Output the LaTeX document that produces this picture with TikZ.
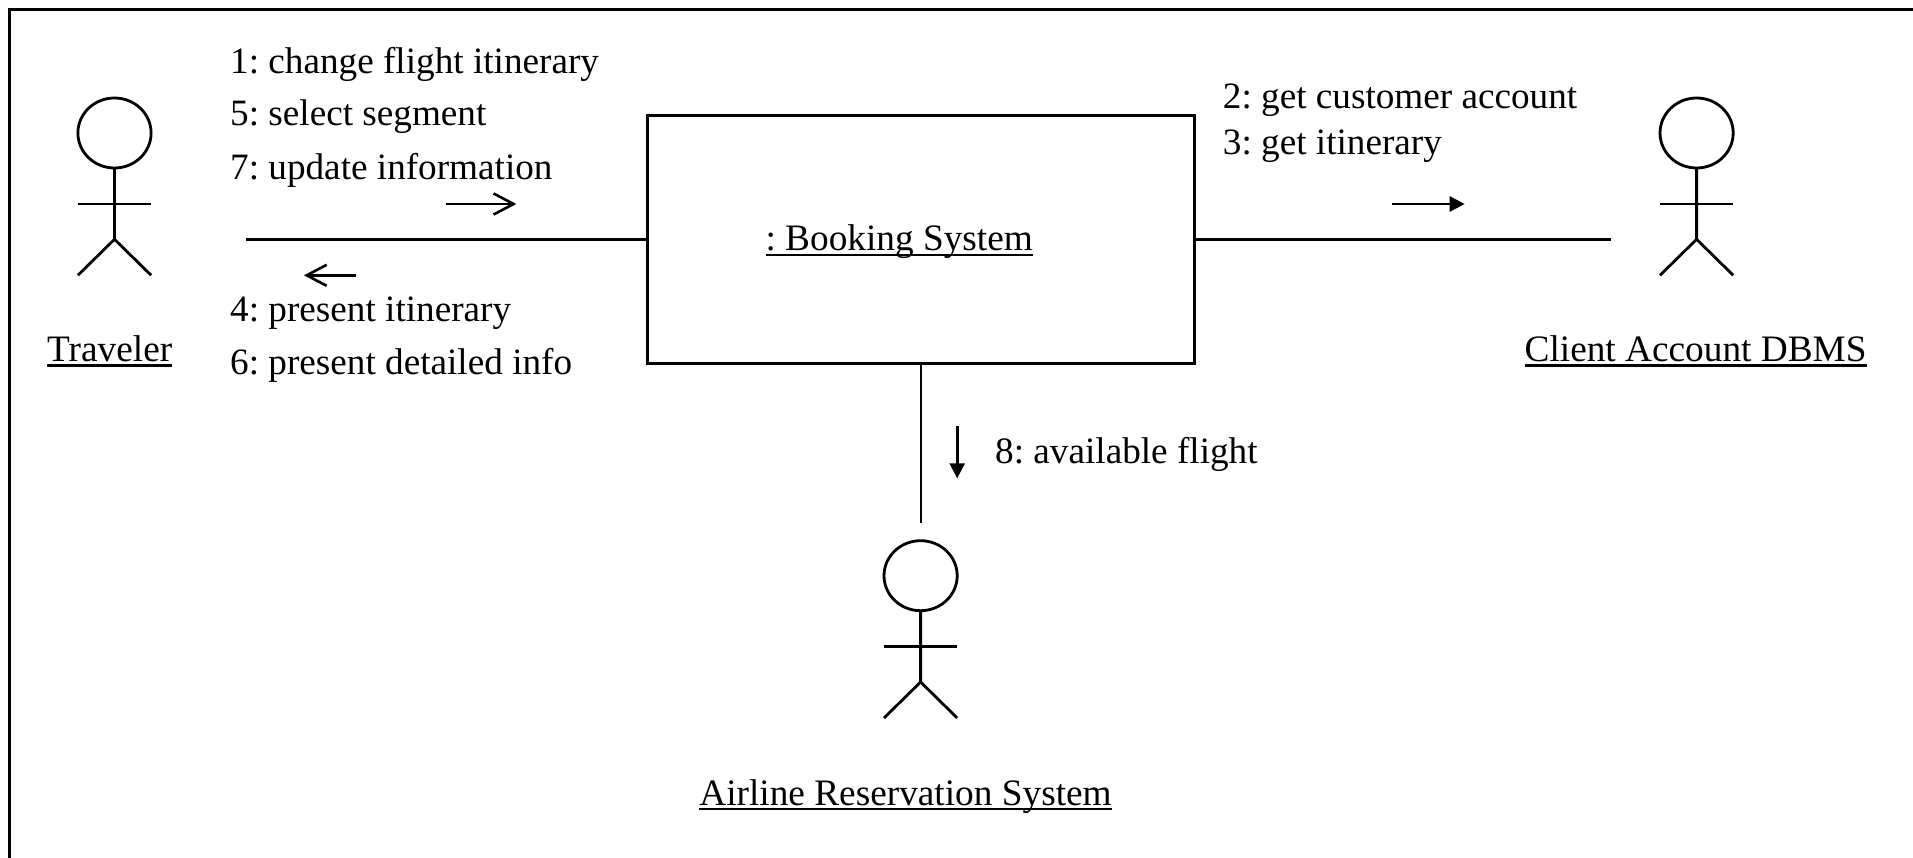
\documentclass[tikz,border=0pt]{standalone}
\usepackage{fontspec}
\setmainfont{Liberation Serif}
\usetikzlibrary{arrows.meta}
\newcommand{\ulabel}[1]{\setbox0\hbox{#1}\rlap{\rule[-4.9pt]{\wd0}{2.2pt}}\box0}
\tikzset{
  msg/.style={anchor=base west, inner sep=0pt, font=\fontsize{37.2}{44}\selectfont\frenchspacing},
  objlabel/.style={anchor=base, inner sep=0pt, font=\fontsize{37.3}{44}\selectfont\frenchspacing},
  openflow/.style={line width=2.6pt, -{Straight Barb[length=20pt,width=21pt,line width=2.6pt]}},
  fillflow/.style={line width=2.6pt, -{Triangle[length=15pt,width=15pt]}},
  actor/.pic={
    \draw[line width=2.8pt] (0,35) ellipse (36.6 and 35);
    \draw[line width=2.8pt] (0,70) -- (0,141.3) -- (-36.6,177.3);
    \draw[line width=2.8pt] (0,141.3) -- (36.6,177.3);
    \draw[line width=2.8pt] (-36.6,106) -- (36.6,106);
  }
}
\begin{document}
\begin{tikzpicture}[x=1pt, y=-1pt]
\useasboundingbox (0,0) rectangle (1913,858);
% Rahmen
\draw[line width=3pt] (1913,9.5) -- (9,9.5) -- (9,858);

% Objekt
\node[draw, line width=2.6pt, minimum width=547.2pt, minimum height=248pt, inner sep=0pt] (booking) at (920.9,239.3) {};
\node[objlabel] (bookinglabel) at (899.2,251) {\ulabel{: Booking System}};

% Akteure
\pic at (114.5,98) {actor};
\pic at (1696.6,98) {actor};
\pic at (920.6,540.7) {actor};
\node[objlabel] (traveler) at (109.7,361.7) {\ulabel{Traveler}};
\node[objlabel] (client) at (1695.6,361.7) {\ulabel{Client Account DBMS}};
\node[objlabel] (airline) at (905.5,805) {\ulabel{Airline Reservation System}};

% Verbindungen
\coordinate (travelerend) at (245.8,239.3);
\coordinate (clientend) at (1610.6,239.3);
\coordinate (airlineend) at (920.9,522.7);
\draw[line width=2.6pt] (travelerend) -- (booking.west);
\draw[line width=2.6pt] (booking.east) -- (clientend);
\draw[line width=2.8pt] (booking.south) -- (airlineend);

% Nachrichten
\node[msg] (m1) at (230,73.7) {1: change flight itinerary};
\node[msg] (m5) at (230,126) {5: select segment};
\node[msg] (m7) at (230,179.3) {7: update information};
\node[msg] (m4) at (230,321.7) {4: present itinerary};
\node[msg] (m6) at (230,374.3) {6: present detailed info};
\node[msg] (m2) at (1222.7,108.3) {2: get customer account};
\node[msg] (m3) at (1222.7,154.3) {3: get itinerary};
\node[msg] (m8) at (995,463.7) {8: available flight};

\coordinate (a1s) at (446,204);
\coordinate (a1e) at (516.4,204);
\coordinate (a2s) at (355.6,275.3);
\coordinate (a2e) at (303.9,275.3);
\coordinate (a3s) at (1392,204);
\coordinate (a3e) at (1464.7,204);
\coordinate (a4s) at (957.2,426);
\coordinate (a4e) at (957.2,478.3);
\draw[openflow] (a1s) -- (a1e);
\draw[openflow] (a2s) -- (a2e);
\draw[fillflow] (a3s) -- (a3e);
\draw[fillflow] (a4s) -- (a4e);
\end{tikzpicture}
\end{document}
